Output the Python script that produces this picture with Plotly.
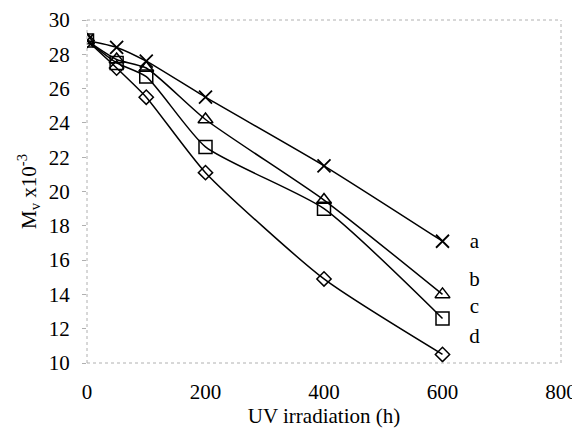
import plotly.graph_objects as go

hours = [0, 50, 100, 200, 400, 600]
series_names = ["a", "b", "c", "d"]
mv_a = [28.8, 28.4, 27.6, 25.5, 21.5, 17.1]
mv_b = [28.8, 27.7, 27.2, 24.2, 19.5, 14.0]
mv_c = [28.8, 27.5, 26.7, 22.6, 19.0, 12.6]
mv_d = [28.8, 27.2, 25.5, 21.1, 14.9, 10.5]
label_y = [17.0, 14.8, 13.2, 11.5]
x_ticks = [0, 200, 400, 600, 800]
y_ticks = [10, 12, 14, 16, 18, 20, 22, 24, 26, 28, 30]

markers = [
    dict(symbol="x-thin-open", size=13, line=dict(width=1.8, color="black")),
    dict(symbol="triangle-up-open", size=13, line=dict(width=1.5, color="black")),
    dict(symbol="square-open", size=13, line=dict(width=1.5, color="black")),
    dict(symbol="diamond-open", size=11, line=dict(width=1.5, color="black")),
]

fig = go.Figure()
for vals, m in zip([mv_a, mv_b, mv_c, mv_d], markers):
    fig.add_trace(go.Scatter(
        x=hours, y=vals, mode="lines+markers",
        line=dict(color="black", width=1.5, shape="spline", smoothing=0.6),
        marker=dict(color="black", **m), showlegend=False))

fig.add_trace(go.Scatter(
    x=[654] * 4, y=label_y, mode="text", text=series_names,
    textfont=dict(family="Liberation Serif", size=21, color="black"),
    showlegend=False))

frame = dict(color="#b0b0b0", width=1, dash="dot")
for x0, y0, x1, y1 in [(0, 0, 1, 0), (0, 1, 1, 1), (0, 0, 0, 1), (1, 0, 1, 1)]:
    fig.add_shape(type="line", xref="x domain", yref="y domain",
                  x0=x0, y0=y0, x1=x1, y1=y1, line=frame)

# page body has an 8px margin; compensate so the plot area lands where the reference has it
fig.update_layout(
    width=572, height=421,
    margin=dict(l=79, r=19, t=12, b=66),
    plot_bgcolor="white", paper_bgcolor="white",
    font=dict(family="Liberation Serif", size=21, color="black"),
)
fig.update_xaxes(range=[0, 800], tickvals=x_ticks, showgrid=False, zeroline=False,
                 showline=False, ticks="", automargin=False, ticklabelstandoff=14,
                 title=dict(text="UV irradiation (h)", standoff=0, font=dict(size=21)),
                 tickfont=dict(size=21))
fig.update_yaxes(range=[10, 30], tickvals=y_ticks, showgrid=False, zeroline=False,
                 showline=False, ticks="outside", ticklen=4, tickcolor="#b0b0b0",
                 automargin=False, ticklabelstandoff=8,
                 title=dict(text="M<sub>v</sub> x10<sup>-3</sup>", standoff=6, font=dict(size=21)),
                 tickfont=dict(size=21))

fig.write_html("out.html")
